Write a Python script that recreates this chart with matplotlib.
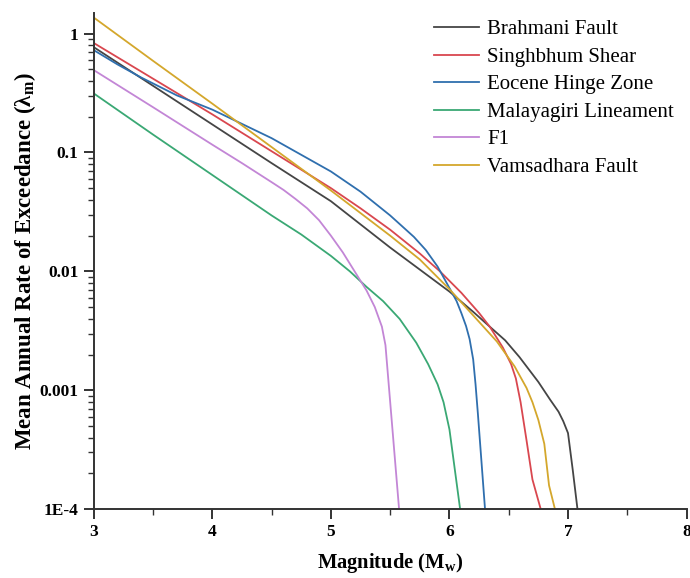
import matplotlib
matplotlib.use('Agg')
import matplotlib.pyplot as plt
import numpy as np
from matplotlib.ticker import FixedLocator, FixedFormatter, LogLocator, MultipleLocator, NullFormatter

plt.rcParams['font.family'] = ['Liberation Serif', 'DejaVu Serif']

# magnitude / log10(rate) pairs
brahmani_m = [3.0, 3.5, 4.0, 4.5, 5.0, 5.5, 6.0, 6.2, 6.34, 6.47, 6.59, 6.75, 6.85, 6.92, 6.96, 7.0, 7.04, 7.08]
brahmani_log = [-0.115, -0.44, -0.765, -1.09, -1.41, -1.80, -2.17, -2.34, -2.465, -2.58, -2.72, -2.93, -3.08, -3.18, -3.26, -3.36, -3.67, -4.0]

singhbhum_m = [3.0, 3.5, 4.0, 4.5, 5.0, 5.25, 5.5, 5.75, 5.92, 6.1, 6.25, 6.34, 6.45, 6.52, 6.56, 6.6, 6.65, 6.7, 6.77]
singhbhum_log = [-0.08, -0.38, -0.68, -0.99, -1.30, -1.47, -1.65, -1.85, -2.0, -2.18, -2.35, -2.465, -2.64, -2.78, -2.9, -3.1, -3.42, -3.75, -4.0]

eocene_m = [3.0, 3.2, 3.4, 3.7, 4.0, 4.5, 4.75, 5.0, 5.25, 5.5, 5.6, 5.7, 5.8, 5.9, 6.0, 6.06, 6.1, 6.14,
            6.17, 6.2, 6.22, 6.24, 6.27, 6.3]
eocene_log = [-0.14, -0.26, -0.37, -0.52, -0.64, -0.88, -1.02, -1.16, -1.33, -1.53, -1.62, -1.71, -1.82, -1.96,
              -2.14, -2.25, -2.35, -2.46, -2.57, -2.74, -2.95, -3.2, -3.6, -4.0]

malayagiri_m = [3.0, 3.5, 4.0, 4.5, 4.75, 5.0, 5.16, 5.3, 5.44, 5.58, 5.72, 5.82, 5.9, 5.95, 6.0, 6.09]
malayagiri_log = [-0.504, -0.85, -1.19, -1.53, -1.69, -1.87, -2.0, -2.13, -2.25, -2.40, -2.60, -2.78, -2.95, -3.10, -3.33, -4.0]

f1_m = [3.0, 3.5, 4.0, 4.25, 4.5, 4.6, 4.7, 4.8, 4.9, 5.0, 5.1, 5.2, 5.3, 5.37, 5.43, 5.46, 5.51, 5.575]
f1_log = [-0.308, -0.62, -0.935, -1.09, -1.25, -1.315, -1.39, -1.47, -1.57, -1.70, -1.84, -2.0, -2.16, -2.30,
          -2.465, -2.62, -3.22, -4.0]

vamsadhara_m = [3.0, 3.5, 4.0, 4.5, 5.0, 5.5, 5.75, 6.0, 6.2, 6.3, 6.4, 6.55, 6.65, 6.7, 6.75, 6.8, 6.84, 6.89]
vamsadhara_log = [0.134, -0.23, -0.59, -0.955, -1.32, -1.70, -1.90, -2.15, -2.37, -2.48, -2.59, -2.80, -2.98, -3.1,
                  -3.25, -3.45, -3.80, -4.0]

names = ['Brahmani Fault', 'Singhbhum Shear', 'Eocene Hinge Zone',
         'Malayagiri Lineament', 'F1', 'Vamsadhara Fault']
series = [(brahmani_m, brahmani_log), (singhbhum_m, singhbhum_log),
          (eocene_m, eocene_log), (malayagiri_m, malayagiri_log),
          (f1_m, f1_log), (vamsadhara_m, vamsadhara_log)]
colors = ['#454545', '#d9474f', '#2f6fae', '#3aa874', '#c386d6', '#d4a72c']

ytick_vals = [1e-4, 1e-3, 1e-2, 1e-1, 1]
ytick_labels = ['1E-4', '0.001', '0.01', '0.1', '1']

fig = plt.figure(figsize=(6.9, 5.78), dpi=100)
ax = fig.add_axes([0.136, 0.119, 0.859, 0.858])

for (m, lg), name, c in zip(series, names, colors):
    ax.plot(m, 10 ** np.array(lg), color=c, lw=1.3, label=name)

ax.set_yscale('log')
ax.set_xlim(3, 8)
ax.set_ylim(1e-4, 1.48)

ax.yaxis.set_major_locator(FixedLocator(ytick_vals))
ax.yaxis.set_major_formatter(FixedFormatter(ytick_labels))
ax.yaxis.set_minor_locator(LogLocator(base=10, subs=np.arange(2, 10)))
ax.yaxis.set_minor_formatter(NullFormatter())
ax.xaxis.set_major_locator(MultipleLocator(1))
ax.xaxis.set_minor_locator(MultipleLocator(0.5))

for s in ['top', 'right']:
    ax.spines[s].set_visible(False)
for s in ['left', 'bottom']:
    ax.spines[s].set_linewidth(1.4)
    ax.spines[s].set_color('#333333')

ax.tick_params(which='major', length=7, width=1.4, color='#333333', labelsize=12.5, pad=4)
ax.tick_params(which='minor', length=4, width=1.0, color='#333333')
for lbl in ax.get_xticklabels() + ax.get_yticklabels():
    lbl.set_fontweight('bold')

ax.set_xlabel(r'Magnitude (M$_\mathregular{w}$)', fontsize=14.8, fontweight='bold', va='center')
ax.set_ylabel(r'Mean Annual Rate of Exceedance (λ$_\mathregular{m}$)', fontsize=16.5,
              fontweight='bold', va='center')
ax.xaxis.set_label_coords(0.5, -0.108)
ax.yaxis.set_label_coords(-0.116, 0.5)

ax.legend(loc='upper right', frameon=False, fontsize=15, handlelength=2.2,
          handletextpad=0.38, labelspacing=0.38, borderaxespad=0.2,
          bbox_to_anchor=(1.0, 1.012))

fig.savefig('out.png', dpi=100)
